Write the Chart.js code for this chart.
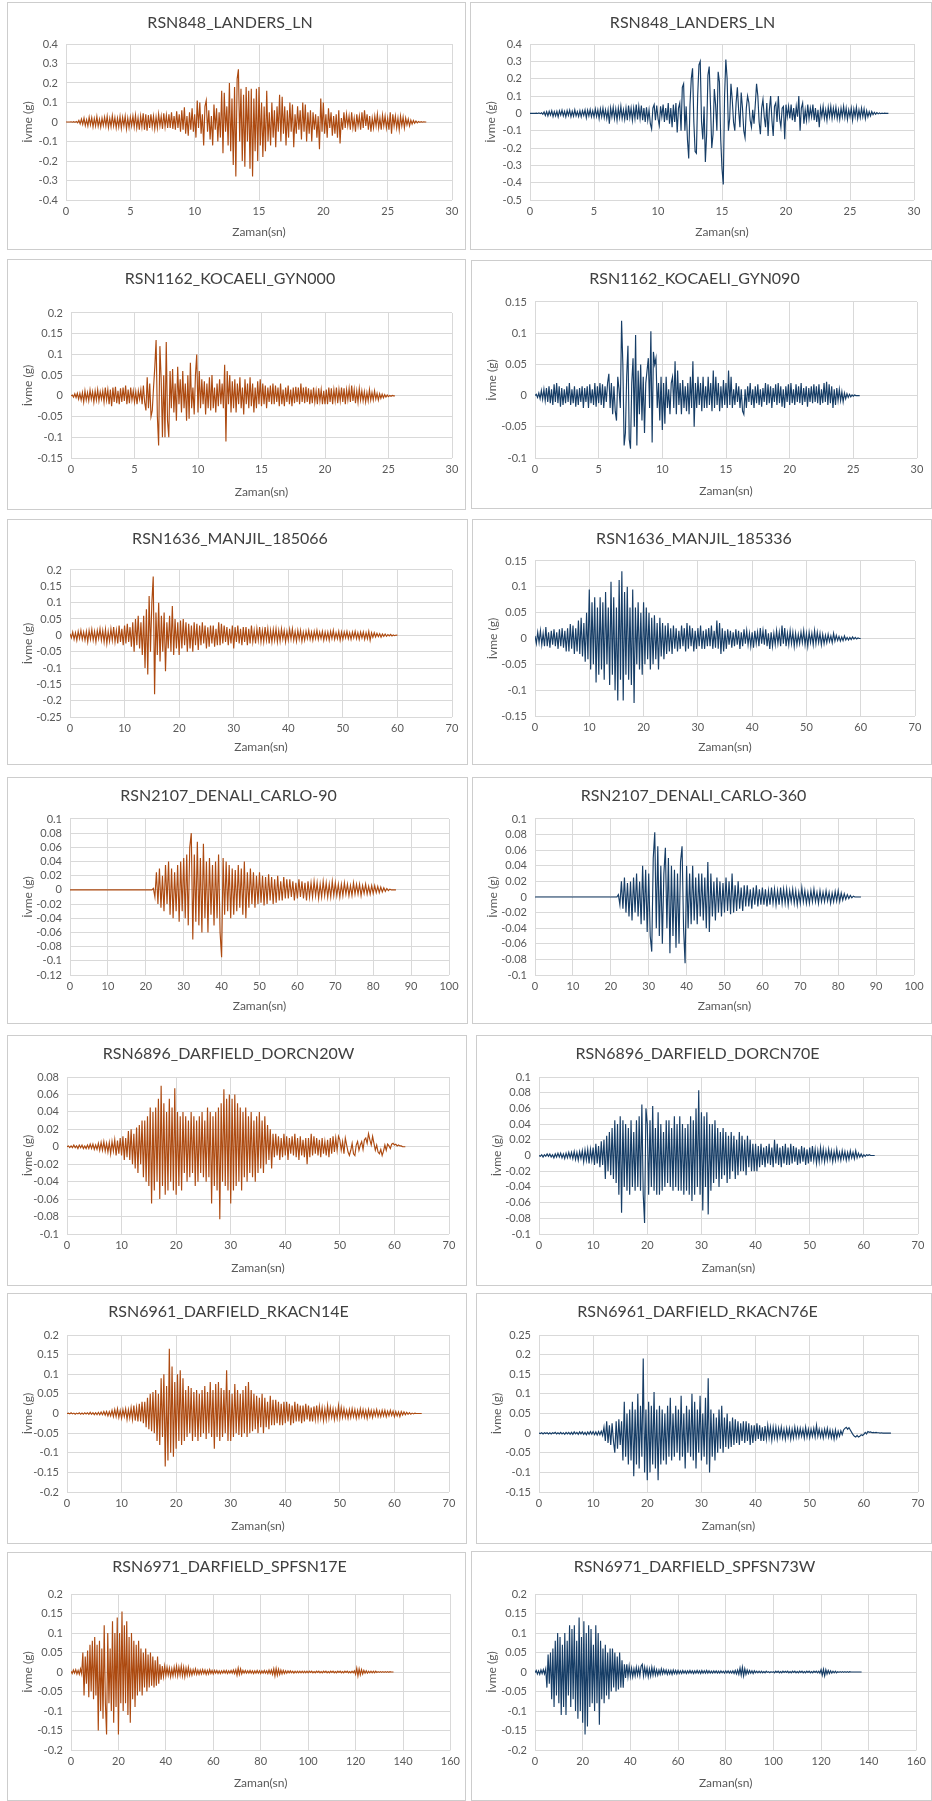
<!DOCTYPE html>
<html>
<head>
<meta charset="utf-8">
<title>İvme kayıtları</title>
<script src="https://cdn.jsdelivr.net/npm/chart.js@4.4.1/dist/chart.umd.min.js"></script>
<style>
    body { margin: 0; background: #ffffff; }
    #sheet { position: relative; width: 932px; height: 1801px; overflow: hidden; background: #ffffff; }
    .panel { position: absolute; border: 1px solid #cdcdcd; box-sizing: border-box; background: #ffffff; }
    .panel canvas { position: absolute; left: 0; top: 0; }
</style>
</head>
<body>
<div id="sheet"></div>
<script>
// Kayıt adları (soldan sağa, yukarıdan aşağıya)
const titles = [
    'RSN848_LANDERS_LN', 'RSN848_LANDERS_LN',
    'RSN1162_KOCAELI_GYN000', 'RSN1162_KOCAELI_GYN090',
    'RSN1636_MANJIL_185066', 'RSN1636_MANJIL_185336',
    'RSN2107_DENALI_CARLO-90', 'RSN2107_DENALI_CARLO-360',
    'RSN6896_DARFIELD_DORCN20W', 'RSN6896_DARFIELD_DORCN70E',
    'RSN6961_DARFIELD_RKACN14E', 'RSN6961_DARFIELD_RKACN76E',
    'RSN6971_DARFIELD_SPFSN17E', 'RSN6971_DARFIELD_SPFSN73W'
];

// örnekleme aralığı (sn)
const sampleSteps = [0.1, 0.1, 0.1, 0.1, 0.25, 0.25, 0.4, 0.4, 0.25, 0.25, 0.25, 0.25, 0.5, 0.5];

// eksen sınırları: [min, max, adım]
const xLimits = [
    [0, 30, 5], [0, 30, 5], [0, 30, 5], [0, 30, 5],
    [0, 70, 10], [0, 70, 10], [0, 100, 10], [0, 100, 10],
    [0, 70, 10], [0, 70, 10], [0, 70, 10], [0, 70, 10],
    [0, 160, 20], [0, 160, 20]
];
const yLimits = [
    [-0.4, 0.4, 0.1], [-0.5, 0.4, 0.1],
    [-0.15, 0.2, 0.05], [-0.1, 0.15, 0.05],
    [-0.25, 0.2, 0.05], [-0.15, 0.15, 0.05],
    [-0.12, 0.1, 0.02], [-0.1, 0.1, 0.02],
    [-0.1, 0.08, 0.02], [-0.1, 0.1, 0.02],
    [-0.2, 0.2, 0.05], [-0.15, 0.25, 0.05],
    [-0.2, 0.2, 0.05], [-0.2, 0.2, 0.05]
];

// ivme değerleri (g), her satır 1 sn
const landersA = [
    0, 0, 0, 0, 0.001, -0.001, 0.002, -0.002, 0.003, -0.004,
    0.008, -0.01, 0.015, -0.012, 0.02, -0.018, 0.012, -0.02, 0.025, -0.015,
    0.022, -0.025, 0.018, -0.02, 0.028, -0.022, 0.015, -0.026, 0.02, -0.018,
    0.025, -0.02, 0.03, -0.028, 0.018, -0.024, 0.032, -0.02, 0.022, -0.03,
    0.02, -0.025, 0.028, -0.032, 0.024, -0.02, 0.03, -0.035, 0.02, -0.028,
    0.025, -0.02, 0.03, -0.025, 0.035, -0.03, 0.022, -0.04, 0.03, -0.025,
    0.045, -0.04, 0.04, -0.045, 0.035, -0.03, 0.04, -0.025, 0.03, -0.035,
    0.025, -0.03, 0.04, -0.02, 0.03, -0.035, 0.045, -0.025, 0.035, -0.03,
    0.04, -0.03, 0.05, -0.035, 0.03, -0.04, 0.055, -0.03, 0.04, -0.05,
    0.06, -0.04, 0.075, -0.06, 0.03, -0.07, 0.05, -0.04, 0.07, -0.05,
    0.04, -0.08, 0.11, -0.03, 0.1, -0.06, 0.04, -0.12, 0.08, 0.11,
    -0.05, 0.06, -0.09, 0.03, -0.12, 0.09, -0.04, 0.07, -0.1, 0.05,
    -0.08, 0.16, -0.16, 0.15, -0.05, 0.08, -0.12, 0.2, -0.15, 0.12,
    -0.22, 0.18, -0.28, 0.22, 0.27, -0.1, 0.17, -0.2, 0.14, -0.23,
    0.18, -0.1, 0.16, -0.24, 0.17, -0.28, 0.12, -0.15, 0.17, -0.2,
    0.18, -0.12, 0.1, -0.18, 0.08, -0.15, 0.16, -0.1, 0.05, -0.12,
    0.1, -0.08, 0.06, -0.13, 0.08, -0.05, 0.14, -0.1, 0.13, -0.06,
    0.08, -0.12, 0.06, -0.08, 0.1, -0.05, 0.09, -0.13, 0.04, -0.06,
    0.08, -0.04, 0.06, -0.09, 0.1, -0.05, 0.09, -0.1, 0.05, -0.06,
    0.06, -0.1, 0.05, -0.04, 0.04, -0.08, 0.03, -0.14, 0.12, -0.05,
    0.1, -0.06, 0.04, -0.08, 0.07, -0.03, 0.05, -0.07, 0.03, -0.06,
    0.04, -0.08, 0.06, -0.11, 0.02, -0.04, 0.05, -0.03, 0.04, -0.02,
    0.03, -0.04, 0.05, -0.03, 0.02, -0.05, 0.04, -0.02, 0.03, -0.04,
    0.05, -0.03, 0.06, -0.02, 0.04, -0.04, 0.03, -0.05, 0.02, -0.03,
    0.03, -0.02, 0.04, -0.03, 0.02, -0.04, 0.035, -0.02, 0.03, -0.03,
    0.02, -0.04, 0.05, -0.06, 0.04, -0.02, 0.03, -0.03, 0.02, -0.04,
    0.03, -0.02, 0.025, -0.03, 0.02, -0.015, 0.015, -0.02, 0.01, -0.01,
    0.008, -0.006, 0.005, -0.004, 0.003, -0.002, 0.002, -0.001, 0.001, 0,
    0
];
const landersB = [
    0, 0, 0, 0, 0, 0.001, -0.001, 0.002, -0.002, 0.003,
    -0.005, 0.008, -0.012, 0.01, -0.015, 0.012, -0.01, 0.015, -0.018, 0.01,
    -0.015, 0.012, -0.02, 0.015, -0.01, 0.018, -0.015, 0.012, -0.02, 0.016,
    -0.012, 0.018, -0.02, 0.012, -0.016, 0.02, -0.015, 0.01, -0.018, 0.015,
    -0.02, 0.015, -0.012, 0.02, -0.025, 0.018, -0.015, 0.022, -0.02, 0.015,
    -0.02, 0.025, -0.018, 0.02, -0.03, 0.025, -0.02, 0.03, -0.025, 0.02,
    -0.03, 0.02, -0.06, 0.03, -0.02, 0.035, -0.03, 0.025, -0.04, 0.03,
    -0.025, 0.04, -0.03, 0.02, -0.035, 0.03, -0.04, 0.045, -0.025, 0.03,
    -0.04, 0.03, -0.03, 0.05, -0.035, 0.04, -0.03, 0.045, -0.04, 0.03,
    -0.05, 0.035, -0.04, 0.02, -0.06, -0.09, 0.03, 0.05, -0.04, 0.045,
    -0.03, -0.07, 0.04, -0.02, 0.05, -0.05, 0.03, -0.04, 0.06, -0.06,
    0.03, -0.08, 0.05, -0.05, 0.06, -0.11, 0.03, 0.06, -0.1, 0.15,
    0.17, -0.1, 0.04, -0.15, -0.26, 0.05, 0.2, 0.26, -0.05, -0.22,
    -0.23, 0.1, 0.28, 0.3, -0.05, -0.15, 0.04, -0.28, -0.12, 0.22,
    0.27, 0.05, -0.2, -0.12, 0.14, 0.05, -0.1, 0.24, 0.18, -0.15,
    -0.32, -0.41, 0.1, 0.31, 0.2, -0.1, -0.03, 0.17, 0.08, -0.05,
    -0.1, 0.06, 0.15, 0.02, -0.08, 0.12, 0.03, -0.1, -0.14, 0.03,
    0.1, 0.06, -0.04, -0.08, 0.02, -0.06, 0.05, 0.17, 0.1, -0.05,
    -0.12, 0.03, 0.08, -0.02, -0.08, 0.06, -0.13, 0.02, 0.1, -0.04,
    -0.13, 0.04, 0.06, -0.05, 0.1, -0.03, -0.08, 0.03, 0.04, -0.15,
    0.05, -0.02, 0.04, -0.03, 0.05, -0.04, 0.03, -0.05, 0.04, -0.02,
    0.1, -0.1, 0.03, 0.06, -0.06, 0.02, -0.04, 0.05, -0.03, 0.03,
    -0.02, 0.05, -0.04, 0.03, -0.05, 0.02, -0.08, 0.03, -0.02, 0.04,
    -0.03, 0.02, -0.04, 0.035, -0.02, 0.04, -0.03, 0.03, -0.02, 0.035,
    -0.03, 0.02, -0.035, 0.03, -0.02, 0.04, -0.025, 0.03, -0.035, 0.02,
    -0.02, 0.03, -0.04, 0.025, -0.02, 0.035, -0.03, 0.02, -0.025, 0.03,
    -0.02, 0.025, -0.03, 0.015, -0.02, 0.01, -0.015, 0.01, -0.008, 0.006,
    -0.005, 0.004, -0.003, 0.002, -0.002, 0.001, -0.001, 0.001, 0, 0,
    0
];
const kocaeliA = [
    0, 0.002, -0.003, 0.005, -0.004, 0.006, -0.008, 0.006, -0.01, 0.008,
    -0.015, 0.012, -0.01, 0.008, -0.012, 0.014, -0.008, 0.01, -0.015, 0.012,
    -0.01, 0.015, -0.012, 0.01, -0.008, 0.012, -0.015, 0.02, -0.01, 0.015,
    -0.02, 0.015, -0.025, 0.02, -0.015, 0.022, -0.018, 0.012, -0.02, 0.018,
    -0.015, 0.02, -0.012, 0.025, -0.02, 0.015, -0.018, 0.02, -0.01, 0.012,
    -0.015, 0.01, -0.02, 0.012, -0.008, 0.015, -0.02, 0.025, -0.015, -0.035,
    0.045, -0.03, 0.03, -0.05, -0.035, 0.02, 0.07, 0.135, -0.05, -0.12,
    0.12, 0.04, -0.1, 0.05, -0.1, 0.13, -0.06, -0.1, 0.06, -0.03,
    0.065, -0.04, 0.03, -0.06, 0.07, -0.02, 0.04, -0.04, 0.06, -0.03,
    0.03, -0.06, 0.05, -0.055, 0.08, -0.03, 0.02, -0.045, 0.05, 0.1,
    -0.04, 0.06, -0.03, 0.04, -0.02, 0.035, -0.045, 0.03, -0.03, 0.045,
    -0.035, 0.05, -0.03, 0.02, -0.04, 0.03, -0.025, 0.04, -0.02, 0.03,
    -0.03, 0.075, -0.11, 0.06, -0.02, 0.05, -0.04, 0.035, -0.03, 0.04,
    -0.04, 0.03, -0.02, 0.045, -0.03, 0.02, -0.045, 0.04, -0.02, 0.03,
    -0.03, 0.045, -0.025, 0.03, -0.04, 0.02, -0.03, 0.035, -0.02, 0.04,
    -0.025, 0.03, -0.02, 0.025, -0.03, 0.02, -0.015, 0.025, -0.02, 0.03,
    -0.02, 0.025, -0.015, 0.02, -0.025, 0.03, -0.02, 0.015, -0.025, 0.02,
    -0.015, 0.025, -0.02, 0.015, -0.025, 0.02, -0.018, 0.022, -0.015, 0.02,
    -0.02, 0.03, -0.015, 0.02, -0.018, 0.022, -0.015, 0.018, -0.02, 0.015,
    -0.018, 0.02, -0.015, 0.012, -0.02, 0.018, -0.012, 0.015, -0.02, 0.012,
    -0.02, 0.015, -0.02, 0.02, -0.015, 0.018, -0.02, 0.015, -0.012, 0.02,
    -0.018, 0.015, -0.012, 0.02, -0.015, 0.018, -0.02, 0.015, -0.01, 0.018,
    -0.015, 0.025, -0.012, 0.015, -0.018, 0.012, -0.015, 0.018, -0.01, 0.012,
    -0.012, 0.01, -0.015, 0.008, -0.012, 0.015, -0.01, 0.008, -0.01, 0.012,
    -0.008, 0.006, -0.01, 0.005, -0.006, 0.004, -0.005, 0.003, -0.003, 0.002,
    -0.002, 0.001, -0.001, 0.001, 0, 0
];
const kocaeliB = [
    0, 0.002, -0.003, 0.004, -0.005, 0.008, -0.006, 0.01, -0.008, 0.012,
    -0.01, 0.015, -0.012, 0.01, -0.015, 0.018, -0.01, 0.02, -0.012, 0.015,
    -0.018, 0.012, -0.015, 0.01, -0.012, 0.015, -0.01, 0.02, -0.015, 0.01,
    -0.012, 0.015, -0.018, 0.01, -0.015, 0.012, -0.01, 0.015, -0.02, 0.012,
    -0.01, 0.015, -0.02, 0.018, -0.012, 0.01, -0.015, 0.02, -0.018, 0.015,
    -0.012, 0.02, -0.015, 0.018, -0.02, 0.015, -0.01, 0.02, 0.035, -0.02,
    0.02, -0.03, 0.015, -0.025, -0.04, 0.03, 0.01, -0.02, 0.12, 0.05,
    -0.08, -0.06, 0.03, 0.08, -0.07, -0.085, 0.02, 0.06, -0.05, 0.097,
    -0.08, 0.04, -0.03, 0.05, -0.04, 0.03, -0.06, 0.02, 0.04, 0.06,
    -0.02, 0.103, -0.075, 0.07, 0.05, 0.06, -0.02, 0.02, -0.04, 0.03,
    -0.055, 0.02, -0.045, 0.03, -0.02, 0.01, -0.03, 0.02, 0.03, -0.02,
    0.055, -0.03, 0.04, -0.015, 0.02, -0.03, 0.025, -0.02, 0.015, -0.025,
    0.02, -0.03, 0.03, -0.02, 0.055, -0.05, 0.02, -0.02, 0.03, -0.015,
    0.02, -0.025, 0.03, -0.02, 0.015, -0.02, 0.03, -0.015, 0.02, -0.025,
    0.04, -0.02, 0.03, -0.015, 0.02, -0.025, 0.015, -0.02, 0.025, -0.015,
    0.02, -0.02, 0.04, -0.015, 0.03, -0.02, 0.01, -0.015, 0.02, -0.01,
    0.015, -0.02, 0.01, -0.025, -0.03, 0.01, -0.02, 0.015, -0.01, 0.02,
    -0.015, 0.01, -0.02, 0.015, -0.012, 0.018, -0.015, 0.01, -0.018, 0.012,
    -0.01, 0.02, -0.015, 0.018, -0.012, 0.015, -0.02, 0.012, -0.01, 0.018,
    -0.015, 0.02, -0.012, 0.015, -0.018, 0.01, -0.02, 0.015, -0.01, 0.018,
    -0.015, 0.02, -0.012, 0.01, -0.015, 0.018, -0.01, 0.015, -0.012, 0.02,
    -0.015, 0.012, -0.01, 0.015, -0.018, 0.012, -0.01, 0.015, -0.012, 0.018,
    -0.01, 0.015, -0.012, 0.018, -0.015, 0.01, -0.012, 0.02, -0.01, 0.022,
    -0.015, 0.018, -0.012, 0.015, -0.02, 0.01, -0.015, 0.012, -0.008, 0.01,
    -0.008, 0.006, -0.01, 0.004, -0.005, 0.003, -0.003, 0.002, -0.002, 0.001,
    -0.001, 0.001, 0, 0, 0, 0
];
// her satır 2 sn
const manjilA = [
    0.005, -0.008, 0.01, -0.012, 0.008, -0.015, 0.012, -0.01,
    0.015, -0.012, 0.01, -0.015, 0.012, -0.02, 0.015, -0.012,
    0.018, -0.015, 0.012, -0.02, 0.015, -0.01, 0.02, -0.015,
    0.015, -0.02, 0.018, -0.025, 0.012, -0.018, 0.02, -0.015,
    0.025, -0.02, 0.015, -0.025, 0.03, -0.02, 0.02, -0.03,
    0.03, -0.025, 0.035, -0.02, 0.025, -0.035, 0.04, -0.05,
    0.05, -0.03, 0.06, -0.04, 0.04, -0.06, 0.06, -0.1,
    0.08, -0.12, 0.12, -0.05, 0.1, 0.18, -0.18, 0.07,
    -0.06, 0.1, -0.08, 0.06, -0.05, 0.07, -0.11, 0.04,
    -0.04, 0.06, -0.05, 0.09, -0.06, 0.05, -0.04, 0.04,
    -0.06, 0.045, -0.04, 0.05, -0.03, 0.04, -0.05, 0.035,
    -0.04, 0.03, -0.05, 0.04, -0.03, 0.035, -0.045, 0.03,
    -0.03, 0.04, -0.025, 0.03, -0.04, 0.025, -0.035, 0.03,
    -0.025, 0.03, -0.035, 0.02, -0.03, 0.04, -0.03, 0.035,
    -0.025, 0.03, -0.02, 0.025, -0.03, 0.02, -0.025, 0.03,
    -0.04, 0.025, -0.02, 0.03, -0.025, 0.02, -0.03, 0.025,
    -0.02, 0.025, -0.03, 0.02, -0.025, 0.03, -0.02, 0.015,
    -0.025, 0.02, -0.015, 0.025, -0.02, 0.015, -0.02, 0.025,
    -0.015, 0.02, -0.025, 0.015, -0.02, 0.018, -0.015, 0.02,
    -0.02, 0.015, -0.018, 0.02, -0.012, 0.015, -0.02, 0.012,
    -0.015, 0.018, -0.012, 0.02, -0.015, 0.012, -0.018, 0.015,
    -0.012, 0.015, -0.018, 0.01, -0.015, 0.012, -0.01, 0.015,
    -0.012, 0.01, -0.015, 0.012, -0.01, 0.015, -0.012, 0.01,
    -0.01, 0.012, -0.015, 0.01, -0.012, 0.01, -0.015, 0.012,
    -0.01, 0.015, -0.012, 0.008, -0.01, 0.012, -0.015, 0.01,
    -0.012, 0.01, -0.008, 0.012, -0.01, 0.008, -0.012, 0.01,
    -0.008, 0.012, -0.01, 0.008, -0.012, 0.01, -0.008, 0.01,
    -0.012, 0.008, -0.01, 0.012, -0.015, 0.008, -0.006, 0.008,
    -0.005, 0.006, -0.004, 0.005, -0.006, 0.004, -0.003, 0.004,
    -0.003, 0.002, -0.002, 0.003, -0.002, 0.001, -0.001, 0.001,
    0
];
const manjilB = [
    0.005, -0.01, 0.012, -0.008, 0.015, -0.012, 0.01, -0.015,
    0.022, -0.015, 0.012, -0.018, 0.015, -0.012, 0.018, -0.015,
    0.012, -0.02, 0.018, -0.015, 0.02, -0.018, 0.015, -0.025,
    0.02, -0.025, 0.028, -0.02, 0.025, -0.03, 0.02, -0.025,
    0.035, -0.03, 0.04, -0.035, 0.03, -0.045, 0.05, -0.04,
    0.095, -0.06, 0.07, -0.05, 0.08, -0.085, 0.06, -0.07,
    0.08, -0.06, 0.07, -0.08, 0.09, -0.05, 0.06, -0.09,
    0.11, -0.07, 0.08, -0.1, 0.06, -0.12, 0.113, -0.08,
    0.13, -0.12, 0.09, -0.07, 0.1, -0.08, 0.06, -0.09,
    0.095, -0.125, 0.06, -0.05, 0.07, -0.06, 0.05, -0.07,
    0.07, -0.05, 0.06, -0.04, 0.05, -0.06, 0.04, -0.05,
    0.045, -0.04, 0.03, -0.06, 0.04, -0.035, 0.03, -0.04,
    0.025, -0.03, 0.03, -0.025, 0.02, -0.03, 0.025, -0.02,
    0.02, -0.025, 0.015, -0.02, 0.025, -0.015, 0.02, -0.025,
    0.03, -0.02, 0.025, -0.015, 0.02, -0.025, 0.015, -0.02,
    0.02, -0.015, 0.025, -0.02, 0.015, -0.02, 0.018, -0.015,
    0.02, -0.015, 0.025, -0.02, 0.015, -0.018, 0.035, -0.02,
    0.03, -0.03, 0.02, -0.025, 0.015, -0.02, 0.018, -0.012,
    0.015, -0.018, 0.012, -0.015, 0.018, -0.012, 0.015, -0.02,
    0.012, -0.015, 0.018, -0.01, 0.015, -0.012, 0.01, -0.015,
    0.012, -0.018, 0.015, -0.01, 0.012, -0.015, 0.02, -0.01,
    0.015, -0.012, 0.018, -0.015, 0.01, -0.02, 0.012, -0.015,
    0.01, -0.012, 0.015, -0.01, 0.012, -0.015, 0.025, -0.01,
    0.02, -0.015, 0.01, -0.012, 0.015, -0.01, 0.012, -0.015,
    0.01, -0.012, 0.008, -0.01, 0.012, -0.008, 0.015, -0.012,
    0.01, -0.015, 0.012, -0.008, 0.01, -0.012, 0.015, -0.01,
    0.012, -0.008, 0.01, -0.012, 0.008, -0.01, 0.006, -0.008,
    0.008, -0.006, 0.005, -0.008, 0.01, -0.005, 0.006, -0.004,
    0.004, -0.005, 0.003, -0.004, 0.005, -0.003, 0.002, -0.003,
    0.002, -0.002, 0.003, -0.001, 0.002, -0.001, 0.001, 0,
    0
];
// her satır 4 sn
const denaliA = [
    0, 0, 0, 0, 0, 0, 0, 0, 0, 0,
    0, 0, 0, 0, 0, 0, 0, 0, 0, 0,
    0, 0, 0, 0, 0, 0, 0, 0, 0, 0,
    0, 0, 0, 0, 0, 0, 0, 0, 0, 0,
    0, 0, 0, 0, 0, 0, 0, 0, 0, 0,
    0, 0, 0, 0, 0, 0.002, -0.01, 0.025, -0.02, 0.03,
    -0.025, 0.02, -0.03, 0.035, -0.02, 0.04, -0.035, 0.03, -0.04, 0.025,
    -0.03, 0.035, -0.045, 0.04, -0.03, 0.045, -0.04, 0.05, -0.05, 0.06,
    0.08, -0.07, 0.05, -0.045, 0.068, -0.05, 0.045, -0.06, 0.065, -0.04,
    0.04, -0.06, 0.045, -0.035, 0.035, -0.05, 0.04, -0.04, 0.05, -0.06,
    -0.095, 0.045, -0.035, 0.04, -0.03, 0.035, -0.04, 0.03, -0.035, 0.028,
    -0.03, 0.035, -0.025, 0.03, -0.035, 0.04, -0.04, 0.025, -0.025, 0.03,
    -0.02, 0.025, -0.025, 0.02, -0.02, 0.025, -0.018, 0.02, -0.022, 0.018,
    -0.02, 0.022, -0.015, 0.018, -0.02, 0.015, -0.018, 0.02, -0.015, 0.012,
    -0.015, 0.018, -0.012, 0.015, -0.012, 0.015, -0.01, 0.012, -0.015, 0.01,
    -0.012, 0.015, -0.01, 0.012, -0.012, 0.01, -0.015, 0.012, -0.01, 0.01,
    -0.01, 0.012, -0.008, 0.01, -0.012, 0.008, -0.01, 0.012, -0.008, 0.01,
    -0.01, 0.008, -0.01, 0.012, -0.008, 0.01, -0.008, 0.008, -0.01, 0.008,
    -0.008, 0.01, -0.006, 0.008, -0.008, 0.006, -0.008, 0.01, -0.006, 0.008,
    -0.006, 0.008, -0.008, 0.006, -0.005, 0.008, -0.006, 0.005, -0.006, 0.006,
    -0.005, 0.006, -0.004, 0.005, -0.004, 0.004, -0.003, 0.003, -0.002, 0.002,
    -0.001, 0.001, 0, 0, 0, 0
];
const denaliB = [
    0, 0, 0, 0, 0, 0, 0, 0, 0, 0,
    0, 0, 0, 0, 0, 0, 0, 0, 0, 0,
    0, 0, 0, 0, 0, 0, 0, 0, 0, 0,
    0, 0, 0, 0, 0, 0, 0, 0, 0, 0,
    0, 0, 0, 0, 0, 0, 0, 0, 0, 0,
    0, 0, 0, 0, 0, 0.003, -0.01, 0.02, -0.015, 0.025,
    -0.02, 0.018, -0.025, 0.02, -0.03, 0.025, -0.02, 0.03, -0.025, 0.02,
    -0.035, 0.04, -0.03, 0.035, -0.045, 0.03, -0.05, -0.07, 0.05, 0.083,
    -0.04, 0.065, -0.05, 0.04, -0.06, 0.03, 0.063, -0.04, 0.05, -0.072,
    0.04, -0.05, 0.035, -0.065, 0.03, -0.06, 0.045, 0.065, -0.04, -0.085,
    0.04, -0.04, 0.03, -0.035, 0.04, -0.03, 0.025, -0.035, 0.03, -0.025,
    0.03, -0.03, 0.025, -0.04, 0.045, -0.045, 0.03, -0.025, 0.02, -0.03,
    0.025, -0.02, 0.02, -0.025, 0.018, -0.02, 0.025, -0.018, 0.02, -0.022,
    0.03, -0.02, 0.015, -0.018, 0.02, -0.015, 0.012, -0.018, 0.015, -0.012,
    0.015, -0.012, 0.01, -0.015, 0.012, -0.01, 0.015, -0.012, 0.01, -0.01,
    0.012, -0.01, 0.01, -0.012, 0.008, -0.01, 0.012, -0.008, 0.01, -0.01,
    0.008, -0.01, 0.012, -0.008, 0.01, -0.008, 0.01, -0.01, 0.008, -0.006,
    0.01, -0.008, 0.008, -0.01, 0.006, -0.008, 0.012, -0.006, 0.008, -0.008,
    0.006, -0.008, 0.008, -0.006, 0.01, -0.006, 0.006, -0.008, 0.008, -0.006,
    0.006, -0.006, 0.008, -0.005, 0.006, -0.008, 0.005, -0.006, 0.007, -0.005,
    0.008, -0.006, 0.005, -0.004, 0.004, -0.003, 0.003, -0.002, 0.002, -0.001,
    0.001, 0, 0, 0, 0, 0
];
// her satır 2 sn
const dorcA = [
    0, 0.001, -0.001, 0.001, -0.001, 0.002, -0.001, 0.001,
    -0.002, 0.002, -0.001, 0.002, -0.002, 0.001, -0.002, 0.002,
    -0.002, 0.003, -0.002, 0.003, -0.003, 0.002, -0.003, 0.004,
    -0.004, 0.005, -0.004, 0.006, -0.005, 0.004, -0.006, 0.005,
    -0.008, 0.006, -0.005, 0.008, -0.01, 0.007, -0.008, 0.01,
    -0.01, 0.012, -0.015, 0.01, -0.012, 0.018, -0.015, 0.02,
    -0.02, 0.015, -0.025, 0.022, -0.03, 0.025, -0.02, 0.03,
    -0.035, 0.03, -0.04, 0.035, -0.045, 0.045, -0.065, 0.04,
    -0.05, 0.045, -0.04, 0.055, -0.06, 0.07, -0.045, 0.05,
    -0.055, 0.04, -0.05, 0.055, -0.04, 0.045, -0.05, 0.067,
    -0.055, 0.04, -0.045, 0.035, -0.05, 0.04, -0.03, 0.035,
    -0.04, 0.03, -0.035, 0.04, -0.03, 0.035, -0.045, 0.03,
    -0.04, 0.035, -0.03, 0.04, -0.035, 0.03, -0.04, 0.045,
    -0.035, 0.04, -0.065, 0.035, -0.045, 0.04, -0.05, 0.045,
    -0.083, 0.05, -0.04, 0.066, -0.045, 0.055, -0.05, 0.06,
    -0.065, 0.055, -0.05, 0.06, -0.045, 0.05, -0.04, 0.045,
    -0.05, 0.04, -0.035, 0.045, -0.04, 0.035, -0.03, 0.04,
    -0.035, 0.03, -0.04, 0.035, -0.03, 0.04, -0.025, 0.03,
    -0.03, 0.035, -0.02, 0.025, -0.015, 0.02, -0.025, 0.015,
    -0.012, 0.015, -0.01, 0.012, -0.015, 0.01, -0.012, 0.015,
    -0.01, 0.012, -0.015, 0.01, -0.008, 0.012, -0.01, 0.015,
    -0.012, 0.01, -0.015, 0.012, -0.01, 0.008, -0.012, 0.01,
    -0.02, 0.01, -0.012, 0.015, -0.01, 0.012, -0.008, 0.01,
    -0.01, 0.008, -0.012, 0.01, -0.008, 0.006, -0.01, 0.008,
    -0.012, 0.01, -0.008, 0.012, -0.006, 0.01, -0.004, 0.012,
    0.008, -0.004, 0.006, -0.008, 0.01, 0.002, -0.006, -0.01,
    -0.004, 0.004, -0.008, -0.01, 0.002, 0.006, -0.004, 0.002,
    0.006, -0.003, 0.008, 0.01, 0.004, 0.015, 0.008, 0.002,
    0.012, 0.004, -0.004, 0.002, -0.006, -0.008, -0.003, -0.01,
    -0.005, 0.002, -0.004, 0.003, 0.001, -0.002, 0.003, 0.004,
    0.002, 0.003, 0.001, 0.002, 0.001, 0.001, 0, 0,
    0
];
const dorcB = [
    0, -0.001, 0.001, -0.002, 0.001, -0.001, 0.002, -0.001,
    0.002, -0.002, 0.001, -0.003, 0.002, -0.002, 0.003, -0.002,
    0.003, -0.003, 0.002, -0.004, 0.003, -0.003, 0.004, -0.003,
    0.004, -0.004, 0.005, -0.005, 0.004, -0.006, 0.005, -0.004,
    0.006, -0.008, 0.007, -0.006, 0.008, -0.01, 0.008, -0.006,
    0.01, -0.012, 0.015, -0.01, 0.012, -0.015, 0.018, -0.012,
    0.02, -0.03, 0.025, -0.02, 0.03, -0.025, 0.035, -0.03,
    0.045, -0.035, 0.04, -0.05, 0.05, -0.073, 0.045, -0.04,
    0.04, -0.045, 0.035, -0.05, 0.045, -0.04, 0.03, -0.045,
    0.045, -0.04, 0.05, -0.045, 0.065, -0.05, -0.086, 0.06,
    0.04, -0.05, 0.045, -0.04, 0.063, -0.045, 0.035, -0.05,
    0.055, -0.05, 0.04, -0.045, 0.03, -0.04, 0.045, -0.035,
    0.045, -0.04, 0.035, -0.045, 0.05, -0.04, 0.04, -0.045,
    0.05, -0.045, 0.04, -0.05, 0.035, -0.045, 0.04, -0.05,
    0.05, -0.058, 0.045, -0.05, 0.06, -0.04, 0.083, -0.05,
    0.055, -0.07, 0.05, -0.04, 0.055, -0.075, 0.04, -0.045,
    0.04, -0.035, 0.045, -0.03, 0.035, -0.04, 0.03, -0.03,
    0.035, -0.025, 0.03, -0.035, 0.025, -0.03, 0.03, -0.02,
    0.025, -0.03, 0.02, -0.025, 0.03, -0.02, 0.025, -0.02,
    0.02, -0.025, 0.025, -0.015, 0.02, -0.02, 0.015, -0.02,
    0.015, -0.02, 0.012, -0.015, 0.015, -0.012, 0.01, -0.015,
    0.012, -0.01, 0.015, -0.012, 0.01, -0.015, 0.02, -0.01,
    0.015, -0.012, 0.01, -0.015, 0.012, -0.01, 0.015, -0.012,
    0.01, -0.012, 0.015, -0.01, 0.012, -0.008, 0.01, -0.012,
    0.008, -0.01, 0.012, -0.008, 0.01, -0.012, 0.008, -0.01,
    0.01, -0.008, 0.012, -0.006, 0.008, -0.01, 0.006, -0.008,
    0.01, -0.006, 0.008, -0.008, 0.006, -0.006, 0.008, -0.005,
    0.006, -0.008, 0.005, -0.006, 0.008, -0.005, 0.004, -0.006,
    0.006, -0.004, 0.005, -0.006, 0.004, -0.005, 0.006, -0.003,
    0.004, -0.004, 0.006, -0.003, 0.003, -0.002, 0.002, -0.002,
    0.001, -0.001, 0.001, 0, 0.001, 0, 0, 0,
    0
];
const rkacA = [
    0, 0.001, -0.001, 0.002, -0.001, 0.001, -0.002, 0.001,
    -0.001, 0.002, -0.002, 0.001, -0.002, 0.002, -0.001, 0.002,
    -0.002, 0.003, -0.002, 0.002, -0.003, 0.002, -0.003, 0.003,
    -0.003, 0.004, -0.003, 0.005, -0.004, 0.005, -0.006, 0.005,
    -0.006, 0.008, -0.008, 0.01, -0.008, 0.012, -0.01, 0.008,
    -0.012, 0.01, -0.008, 0.012, -0.015, 0.01, -0.012, 0.015,
    -0.015, 0.02, -0.018, 0.015, -0.02, 0.025, -0.02, 0.03,
    -0.025, 0.03, -0.035, 0.04, -0.04, 0.05, -0.045, 0.055,
    -0.05, 0.06, -0.07, 0.05, -0.08, 0.09, -0.06, 0.1,
    -0.135, 0.07, -0.12, 0.165, -0.1, 0.12, -0.11, 0.08,
    -0.09, 0.1, -0.07, 0.11, -0.08, 0.09, -0.07, 0.06,
    -0.06, 0.07, -0.05, 0.065, -0.07, 0.055, -0.06, 0.06,
    -0.07, 0.05, -0.06, 0.06, -0.05, 0.07, -0.065, 0.055,
    -0.05, 0.08, -0.06, 0.06, -0.09, 0.075, -0.06, 0.08,
    -0.07, 0.065, -0.06, 0.06, -0.05, 0.11, -0.07, 0.06,
    -0.07, 0.05, -0.06, 0.075, -0.05, 0.06, -0.055, 0.05,
    -0.06, 0.06, -0.05, 0.07, -0.06, 0.08, -0.05, 0.06,
    -0.045, 0.05, -0.04, 0.045, -0.05, 0.04, -0.035, 0.05,
    -0.05, 0.04, -0.035, 0.03, -0.04, 0.045, -0.03, 0.035,
    -0.03, 0.035, -0.025, 0.03, -0.03, 0.025, -0.03, 0.03,
    -0.025, 0.03, -0.02, 0.025, -0.03, 0.02, -0.025, 0.03,
    -0.02, 0.025, -0.02, 0.02, -0.025, 0.02, -0.02, 0.025,
    -0.015, 0.02, -0.02, 0.015, -0.02, 0.018, -0.015, 0.02,
    -0.015, 0.018, -0.012, 0.015, -0.018, 0.012, -0.015, 0.02,
    -0.012, 0.015, -0.01, 0.012, -0.015, 0.01, -0.012, 0.02,
    -0.012, 0.015, -0.01, 0.012, -0.01, 0.008, -0.012, 0.01,
    -0.01, 0.012, -0.008, 0.01, -0.012, 0.008, -0.01, 0.012,
    -0.008, 0.01, -0.01, 0.008, -0.012, 0.01, -0.008, 0.008,
    -0.01, 0.008, -0.006, 0.01, -0.008, 0.006, -0.008, 0.008,
    -0.006, 0.008, -0.008, 0.006, -0.006, 0.008, -0.005, 0.006,
    -0.008, 0.005, -0.006, 0.004, -0.008, 0.005, -0.004, 0.004,
    -0.003, 0.003, -0.002, 0.002, -0.002, 0.001, -0.001, 0.001,
    0, 0, 0, 0, 0
];
const rkacB = [
    0, -0.001, 0.001, -0.002, 0.001, -0.001, 0.001, -0.002,
    0.001, -0.002, 0.001, -0.001, 0.002, -0.002, 0.001, -0.002,
    0.002, -0.002, 0.001, -0.003, 0.002, -0.002, 0.002, -0.003,
    0.002, -0.003, 0.003, -0.002, 0.002, -0.003, 0.003, -0.002,
    0.003, -0.003, 0.002, -0.004, 0.003, -0.003, 0.004, -0.003,
    0.004, -0.004, 0.003, -0.005, 0.004, -0.004, 0.005, -0.006,
    0.015, -0.02, 0.03, -0.025, 0.02, -0.03, 0.025, -0.02,
    -0.05, 0.03, -0.04, 0.035, -0.03, 0.03, -0.07, 0.08,
    -0.06, 0.05, -0.08, 0.06, -0.07, 0.08, -0.11, 0.06,
    -0.08, 0.1, -0.09, 0.07, -0.06, 0.19, -0.1, 0.06,
    -0.12, 0.08, -0.1, 0.07, -0.08, 0.105, -0.09, 0.06,
    -0.12, 0.07, -0.08, 0.06, -0.07, 0.05, -0.08, 0.07,
    -0.06, 0.09, -0.07, 0.05, -0.06, 0.07, -0.05, 0.06,
    -0.07, 0.095, -0.06, 0.05, -0.09, 0.07, -0.05, 0.06,
    -0.06, 0.1, -0.07, 0.08, -0.09, 0.06, -0.05, 0.095,
    -0.07, 0.05, -0.06, 0.09, -0.08, 0.14, -0.1, 0.06,
    -0.06, 0.05, -0.07, 0.04, -0.05, 0.06, -0.04, 0.07,
    -0.05, 0.04, -0.035, 0.05, -0.04, 0.03, -0.035, 0.04,
    -0.03, 0.035, -0.025, 0.03, -0.03, 0.025, -0.02, 0.03,
    -0.025, 0.03, -0.02, 0.025, -0.03, 0.02, -0.025, 0.02,
    -0.02, 0.025, -0.015, 0.02, -0.02, 0.015, -0.02, 0.018,
    -0.015, 0.02, -0.012, 0.015, -0.018, 0.015, -0.012, 0.015,
    -0.015, 0.012, -0.01, 0.015, -0.012, 0.01, -0.015, 0.012,
    -0.01, 0.012, -0.015, 0.01, -0.012, 0.015, -0.01, 0.012,
    -0.01, 0.012, -0.008, 0.01, -0.012, 0.015, -0.01, 0.01,
    -0.012, 0.01, -0.008, 0.012, -0.01, 0.02, -0.008, 0.01,
    -0.01, 0.008, -0.012, 0.01, -0.008, 0.012, -0.01, 0.008,
    -0.012, 0.006, -0.015, 0.008, -0.012, 0.005, -0.008, 0.006,
    -0.004, 0.008, 0.012, 0.015, 0.01, 0.014, 0.008, 0.002,
    -0.004, -0.008, -0.01, -0.006, -0.01, -0.008, -0.004, -0.006,
    -0.003, 0.002, -0.002, 0.004, 0.002, 0.003, 0.001, 0.002,
    0.001, 0.002, 0.001, 0.001, 0, 0.001, 0, 0,
    0, 0, 0, 0, 0
];
// her satır 5 sn
const spfsA = [
    0.002, -0.004, 0.005, -0.003, 0.006, -0.005, 0.004, -0.006, 0.008, -0.005,
    0.05, -0.06, 0.04, -0.03, 0.055, -0.065, 0.07, -0.05, 0.08, -0.07,
    0.09, -0.06, 0.07, -0.15, 0.08, -0.1, 0.06, -0.12, 0.12, -0.08,
    -0.16, 0.1, -0.08, 0.06, -0.1, 0.13, -0.13, 0.1, -0.09, 0.14,
    -0.16, 0.1, -0.08, 0.155, -0.1, 0.12, -0.08, 0.13, -0.11, 0.09,
    -0.13, 0.1, -0.07, 0.08, -0.09, 0.07, -0.06, 0.08, -0.05, 0.06,
    -0.06, 0.05, -0.04, 0.06, -0.05, 0.045, -0.04, 0.05, -0.035, 0.04,
    -0.04, 0.03, -0.035, 0.04, -0.03, 0.02, -0.02, 0.015, -0.012, 0.015,
    -0.01, 0.012, -0.008, 0.01, -0.012, 0.008, -0.01, 0.012, -0.008, 0.015,
    -0.01, 0.012, -0.008, 0.015, -0.01, 0.012, -0.012, 0.01, -0.008, 0.012,
    -0.008, 0.006, -0.008, 0.006, -0.005, 0.008, -0.006, 0.005, -0.006, 0.005,
    -0.005, 0.006, -0.004, 0.005, -0.006, 0.004, -0.005, 0.006, -0.004, 0.004,
    -0.005, 0.004, -0.003, 0.004, -0.004, 0.003, -0.004, 0.003, -0.003, 0.004,
    -0.003, 0.004, -0.004, 0.003, -0.003, 0.004, -0.003, 0.005, -0.004, 0.006,
    -0.008, 0.01, -0.006, 0.008, -0.005, 0.004, -0.003, 0.004, -0.003, 0.003,
    -0.003, 0.004, -0.003, 0.003, -0.004, 0.003, -0.003, 0.004, -0.003, 0.003,
    -0.004, 0.003, -0.003, 0.004, -0.003, 0.003, -0.004, 0.005, -0.004, 0.005,
    -0.006, 0.008, -0.01, 0.009, -0.008, 0.007, -0.006, 0.005, -0.005, 0.004,
    -0.004, 0.003, -0.003, 0.003, -0.002, 0.003, -0.002, 0.002, -0.003, 0.002,
    -0.002, 0.002, -0.002, 0.002, -0.002, 0.002, -0.002, 0.002, -0.002, 0.002,
    -0.002, 0.002, -0.001, 0.002, -0.002, 0.001, -0.002, 0.002, -0.001, 0.002,
    -0.002, 0.001, -0.002, 0.002, -0.001, 0.002, -0.002, 0.001, -0.002, 0.002,
    -0.001, 0.002, -0.002, 0.001, -0.002, 0.002, -0.001, 0.002, -0.002, 0.001,
    -0.002, 0.002, -0.001, 0.002, -0.002, 0.001, -0.002, 0.002, -0.002, 0.003,
    -0.006, 0.01, -0.01, 0.008, -0.007, 0.006, -0.005, 0.004, -0.003, 0.003,
    -0.003, 0.002, -0.002, 0.002, -0.002, 0.002, -0.002, 0.002, -0.001, 0.001,
    -0.001, 0.001, -0.001, 0.001, -0.001, 0.001, -0.001, 0.001, -0.001, 0.001,
    0, 0, 0
];
const spfsB = [
    -0.002, 0.004, -0.005, 0.003, -0.006, 0.005, -0.004, 0.006, -0.005, 0.008,
    -0.04, 0.045, -0.03, 0.05, -0.07, 0.06, -0.09, 0.08, -0.06, 0.1,
    -0.08, 0.09, -0.11, 0.07, -0.09, 0.1, -0.11, 0.08, -0.06, 0.12,
    -0.09, 0.11, -0.07, 0.12, -0.1, 0.08, -0.12, 0.14, -0.1, 0.09,
    -0.13, 0.13, -0.16, 0.1, -0.14, 0.12, -0.09, 0.11, -0.08, 0.07,
    -0.1, 0.12, -0.08, 0.1, -0.135, 0.08, -0.07, 0.06, -0.08, 0.07,
    -0.06, 0.05, -0.07, 0.06, -0.05, 0.06, -0.04, 0.05, -0.05, 0.04,
    -0.045, 0.05, -0.04, 0.03, -0.04, 0.02, -0.015, 0.02, -0.012, 0.015,
    -0.012, 0.01, -0.012, 0.008, -0.01, 0.012, -0.008, 0.01, -0.01, 0.015,
    0.02, -0.01, 0.012, -0.008, 0.01, -0.012, 0.008, -0.01, 0.012, -0.008,
    0.01, -0.008, 0.006, -0.008, 0.005, -0.006, 0.008, -0.005, 0.006, -0.004,
    0.005, -0.006, 0.004, -0.005, 0.004, -0.006, 0.005, -0.004, 0.004, -0.005,
    0.004, -0.004, 0.003, -0.004, 0.004, -0.003, 0.003, -0.004, 0.003, -0.003,
    0.004, -0.003, 0.003, -0.004, 0.003, -0.003, 0.004, -0.003, 0.003, -0.004,
    0.004, -0.003, 0.003, -0.003, 0.004, -0.003, 0.003, -0.003, 0.002, -0.003,
    0.003, -0.002, 0.003, -0.003, 0.002, -0.003, 0.003, -0.002, 0.002, -0.003,
    0.003, -0.002, 0.003, -0.003, 0.002, -0.003, 0.003, -0.004, 0.004, -0.005,
    0.005, -0.006, 0.01, -0.008, 0.012, -0.01, 0.008, -0.006, 0.005, -0.004,
    0.004, -0.003, 0.003, -0.004, 0.003, -0.002, 0.002, -0.002, 0.002, -0.002,
    0.002, -0.002, 0.001, -0.002, 0.002, -0.001, 0.001, -0.002, 0.001, -0.001,
    0.001, -0.002, 0.002, -0.001, 0.002, -0.002, 0.001, -0.002, 0.002, -0.001,
    0.002, -0.001, 0.002, -0.002, 0.001, -0.002, 0.002, -0.001, 0.002, -0.002,
    0.001, -0.002, 0.002, -0.001, 0.002, -0.002, 0.001, -0.002, 0.002, -0.001,
    0.002, -0.002, 0.001, -0.002, 0.002, -0.001, 0.002, -0.002, 0.002, -0.003,
    0.006, -0.008, 0.007, -0.01, 0.006, -0.005, 0.004, -0.004, 0.003, -0.003,
    0.002, -0.002, 0.002, -0.002, 0.001, -0.001, 0.001, -0.001, 0.001, -0.001,
    0.001, -0.001, 0.001, -0.001, 0.001, 0, 0, 0, 0, 0,
    0, 0, 0, 0, 0
];

const records = [landersA, landersB, kocaeliA, kocaeliB, manjilA, manjilB, denaliA, denaliB,
    dorcA, dorcB, rkacA, rkacB, spfsA, spfsB];

// çerçeve ve çizim alanı kenarları (px): [sol, üst, sağ, alt]
const frames = [
    [7, 2, 465, 249], [470, 2, 931, 249],
    [7, 259, 465, 509], [471, 260, 931, 508],
    [7, 519, 467, 764], [472, 519, 931, 764],
    [7, 777, 467, 1023], [472, 777, 931, 1023],
    [7, 1035, 466, 1285], [476, 1035, 931, 1285],
    [7, 1293, 466, 1543], [476, 1293, 931, 1543],
    [7, 1552, 465, 1800], [471, 1551, 931, 1800]
];
const plotBoxes = [
    [66, 44, 452, 200], [530, 44, 914, 200],
    [71, 313, 452, 458], [535, 302, 917, 458],
    [70, 570, 452, 717], [535, 561, 915, 716],
    [70, 819, 449, 975], [535, 819, 914, 975],
    [67, 1077, 449, 1234], [539, 1077, 918, 1234],
    [67, 1335, 449, 1492], [539, 1335, 918, 1492],
    [71, 1594, 451, 1750], [535, 1594, 917, 1750]
];
const titleRows = [23, 279, 539, 796, 1054, 1312, 1567];

const FONT = "Lato, 'Open Sans', 'Liberation Sans', sans-serif";
const TEXT = '#595959';
const TITLE_TEXT = '#404040';
const GRID = '#d9d9d9';
const SERIES_COLORS = ['#ad4a10', '#163d66'];

const sheet = document.getElementById('sheet');

function drawRecord(i) {
    const [fl, ft, fr, fb] = frames[i];
    const [pl, pt, pr, pb] = plotBoxes[i];
    const titleY = titleRows[Math.floor(i / 2)];

    const panel = document.createElement('div');
    panel.className = 'panel';
    panel.style.left = fl + 'px';
    panel.style.top = ft + 'px';
    panel.style.width = (fr - fl + 1) + 'px';
    panel.style.height = (fb - ft + 1) + 'px';
    sheet.appendChild(panel);

    const ox = fl + 1, oy = ft + 1;
    const W = fr - fl - 1, H = fb - ft - 1;
    const canvas = document.createElement('canvas');
    canvas.width = W;
    canvas.height = H;
    canvas.style.width = W + 'px';
    canvas.style.height = H + 'px';
    panel.appendChild(canvas);

    const dt = sampleSteps[i];
    const points = records[i].map((v, k) => ({ x: k * dt, y: v }));
    const [xMin, xMax, xStep] = xLimits[i];
    const [yMin, yMax, yStep] = yLimits[i];

    const titleLine = 16 * 1.2;
    return new Chart(canvas, {
        type: 'line',
        data: {
            datasets: [{
                data: points,
                borderColor: SERIES_COLORS[i % 2],
                borderWidth: 1.15,
                pointRadius: 0,
                tension: 0,
                fill: false
            }]
        },
        options: {
            responsive: false,
            animation: false,
            parsing: false,
            events: [],
            layout: { padding: { left: 0, top: 0, bottom: 0, right: W - (pr - ox) } },
            plugins: {
                legend: { display: false },
                tooltip: { enabled: false },
                title: {
                    display: true,
                    text: titles[i],
                    color: TITLE_TEXT,
                    font: { family: FONT, size: 16, weight: 'normal' },
                    padding: {
                        top: titleY - oy - titleLine / 2,
                        bottom: pt - (titleY + titleLine / 2)
                    }
                }
            },
            scales: {
                x: {
                    type: 'linear',
                    min: xMin,
                    max: xMax,
                    afterFit: s => { s.height = H - (pb - oy); },
                    ticks: {
                        stepSize: xStep,
                        color: TEXT,
                        font: { family: FONT, size: 11 },
                        padding: 5,
                        maxRotation: 0,
                        autoSkip: false
                    },
                    grid: { color: GRID, drawTicks: false },
                    border: { display: false },
                    title: {
                        display: true,
                        text: 'Zaman(sn)',
                        color: TEXT,
                        font: { family: FONT, size: 12 },
                        padding: { top: 0, bottom: 10 }
                    }
                },
                y: {
                    type: 'linear',
                    min: yMin,
                    max: yMax,
                    afterFit: s => { s.width = pl - ox; },
                    ticks: {
                        stepSize: yStep,
                        color: TEXT,
                        font: { family: FONT, size: 11 },
                        padding: 8,
                        autoSkip: false,
                        callback: value => String(+value.toFixed(3))
                    },
                    grid: { color: GRID, drawTicks: false },
                    border: { display: false },
                    title: {
                        display: true,
                        text: 'İvme (g)',
                        color: TEXT,
                        font: { family: FONT, size: 12 },
                        padding: { top: 13, bottom: 0 }
                    }
                }
            }
        }
    });
}

titles.forEach((t, i) => drawRecord(i));
</script>
</body>
</html>
